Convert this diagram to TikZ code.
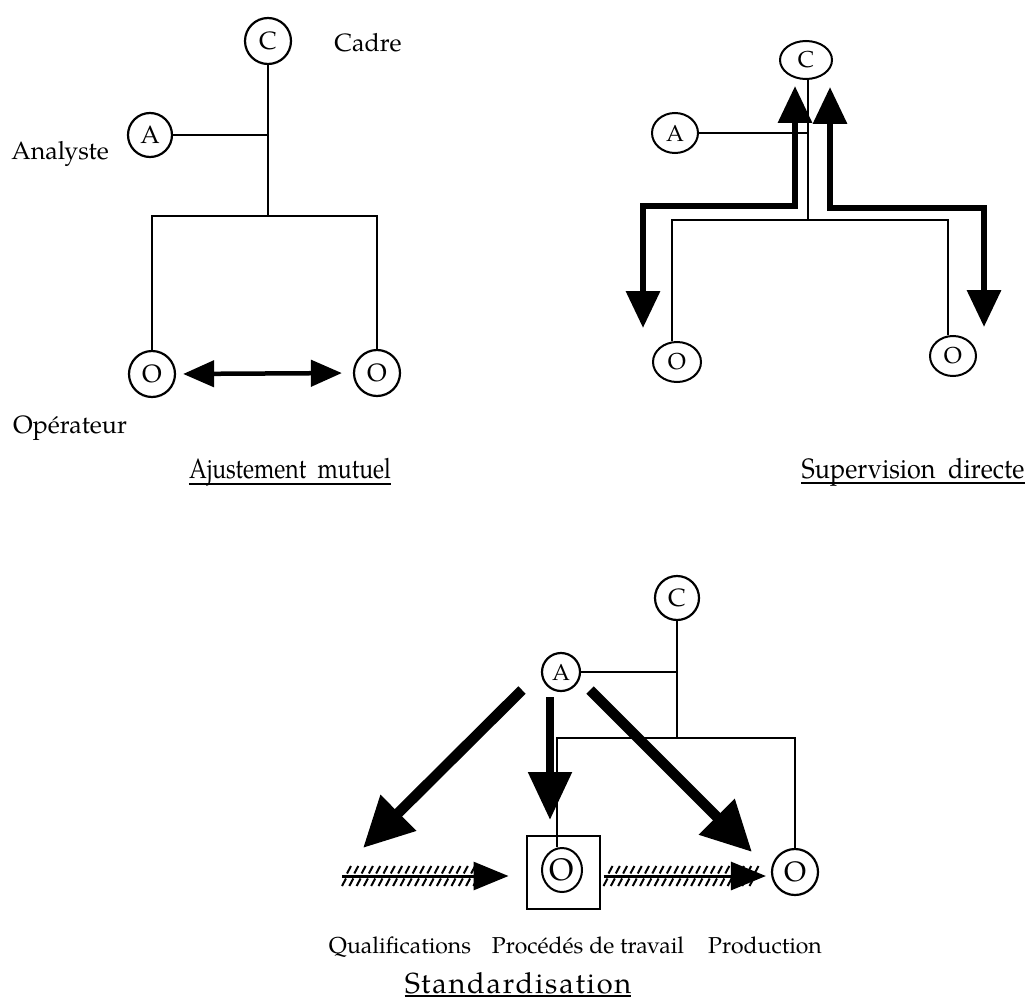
\documentclass[tikz,border=0pt]{standalone}
\usepackage{fontspec}
\setmainfont{TeX Gyre Pagella}
\newfontfamily\widefont[LetterSpace=6]{TeX Gyre Pagella}
\usetikzlibrary{arrows.meta,shapes.geometric,calc}
\begin{document}
\begin{tikzpicture}[x=1pt,y=-1pt,
  role/.style={draw,circle,line width=2.2pt,inner sep=0pt,minimum size=#1,
    font=\fontsize{25}{25}\selectfont},
  role/.default=46pt,
  roleE/.style 2 args={draw,ellipse,line width=2pt,inner sep=0pt,
    minimum width=#1,minimum height=#2,font=\fontsize{23}{23}\selectfont},
  link/.style={line width=2.4pt},
  thin link/.style={line width=2pt},
  label/.style={font=\fontsize{25}{28}\selectfont,inner sep=0pt,anchor=base},
  small label/.style={label,font=\fontsize{23}{26}\selectfont},
  title/.style={font=\fontsize{28}{30}\selectfont,inner sep=0pt,anchor=base},
  uline/.style={line width=2pt},
  pair arrow/.style={line width=4.5pt,{Triangle[length=31pt,width=26pt]}-{Triangle[length=31pt,width=26pt]}},
  order arrow/.style={line width=6.5pt,{Triangle[length=37pt,width=33pt]}-{Triangle[length=37pt,width=33pt]}},
  std arrow/.style={line width=10.5pt,-{Triangle[length=50pt,width=48pt]}},
  std down/.style={line width=8.5pt,-{Triangle[length=48pt,width=42pt]}},
  flow arrow/.style={line width=3pt,-{Triangle[length=35pt,width=28pt]}},
  hatch/.style={line width=2pt},
]
\useasboundingbox (0,0) rectangle (1032,1003);

% ---------- Ajustement mutuel ----------
\node[role] (c1) at (268,41) {C};
\node[label] (cadre) at (368,52) {Cadre};
\node[role=44pt] (a1) at (150,135) {A};
\node[label] (analyste) at (60,160) {Analyste};
\node[role] (o1l) at (152,374) {O};
\node[role] (o1r) at (377,373) {O};
\node[label] (operateur) at (70,433) {Opérateur};
\node[title] (t1) at (290,478) {\scalebox{0.82}[1]{Ajustement\ \ mutuel}};
\draw[uline] ([yshift=-6pt]t1.base west) -- ([yshift=-6pt]t1.base east);

\coordinate (h1) at (268,216);
\draw[link] (c1.south) -- (h1);
\draw[link] (a1.east) -- (a1.east -| h1);
\draw[link] (o1l.north) |- (h1) -| (o1r.north);
\draw[pair arrow,shorten <=7pt,shorten >=11pt] (o1l.east) -- (o1r.west);

% ---------- Supervision directe ----------
\node[roleE={52pt}{38pt}] (c2) at (806,60) {C};
\node[roleE={46pt}{40pt}] (a2) at (675,133) {A};
\node[roleE={48pt}{40pt}] (o2l) at (677,362) {O};
\node[roleE={46pt}{40pt}] (o2r) at (953,356) {O};
\node[title] (t2) at (913,478) {\scalebox{0.9}[1]{Supervision\ \ directe}};
\draw[uline] ([yshift=-5pt]t2.base west) -- ([yshift=-5pt]t2.base east);

\coordinate (h2) at (808,220);
\draw[thin link] (c2.south -| h2) -- (h2);
\draw[thin link] (a2.east) -- (a2.east -| h2);
\draw[thin link] ([xshift=-5pt]o2l.north) |- (h2) -| ([xshift=-5pt]o2r.north);

% orders running down from the manager and reports running back up
\coordinate (s2l) at (795,86);
\coordinate (e2l) at (643,328);
\coordinate (s2r) at (830,87);
\coordinate (e2r) at (984,327);
\draw[order arrow] (s2l) -- (s2l |- 0,206) -| (e2l);
\draw[order arrow] (s2r) -- (s2r |- 0,208) -| (e2r);

% ---------- Standardisation ----------
\node[role=44pt] (c3) at (677,598) {C};
\node[role=38pt,font=\fontsize{23}{23}\selectfont] (a3) at (561,672) {A};
\node[draw,line width=2pt,minimum size=73pt,inner sep=0pt] (box) at (563,872) {};
\node[draw,ellipse,line width=2pt,inner sep=0pt,minimum width=40pt,minimum height=44pt,
  font=\fontsize{31}{31}\selectfont] (o3b) at (562,870) {O};
\node[role=46pt,font=\fontsize{28}{28}\selectfont] (o3r) at (795,872) {O};

\coordinate (h3) at (677,738);
\coordinate (b3) at (557,738);
\draw[link] (c3.south) -- (h3);
\draw[link] (a3.east) -- (a3.east -| h3);
\draw[link] (o3b.north -| b3) -- (b3) -- (h3 -| o3r.north) -- (o3r.north);

\coordinate (q0) at (342,876);
\coordinate (skillTip) at (363,848);
\draw[std arrow] (522,690) coordinate (sq) -- (skillTip);
\draw[std down] (550,697) coordinate (sp) -- (550,820) coordinate (procTip);
\draw[std arrow] (590,690) coordinate (sr) -- (752,852) coordinate (prodTip);

% hatched flows: skills into the work process, work into output
\foreach \i in {0,...,18} {
  \draw[hatch] ($(q0)+(\i*7.3,10)$) -- ++(4,-7.5);
  \draw[hatch] ($(q0)+(\i*7.3+5,-2.5)$) -- ++(4,-7.5);
}
\draw[flow arrow] (q0) -- ([xshift=-17pt]box.west |- q0);
\coordinate (p0) at ([xshift=3pt]box.east |- q0);
\foreach \i in {0,...,20} {
  \draw[hatch] ($(p0)+(\i*7.3,10)$) -- ++(4,-7.5);
  \draw[hatch] ($(p0)+(\i*7.3+5,-2.5)$) -- ++(4,-7.5);
}
\draw[flow arrow] (p0) -- ([xshift=-5pt]o3r.west |- q0);

\node[small label] (qual) at (400,953) {Qualifications};
\node[small label] (proc) at (588,953) {Procédés de travail};
\node[small label] (prod) at (765,953) {Production};
\node[title] (t3) at (518,993) {\widefont\fontsize{29}{30}\selectfont Standardisation};
\draw[uline] ([yshift=-3pt]t3.base west) -- ([yshift=-3pt]t3.base east);
\end{tikzpicture}
\end{document}
